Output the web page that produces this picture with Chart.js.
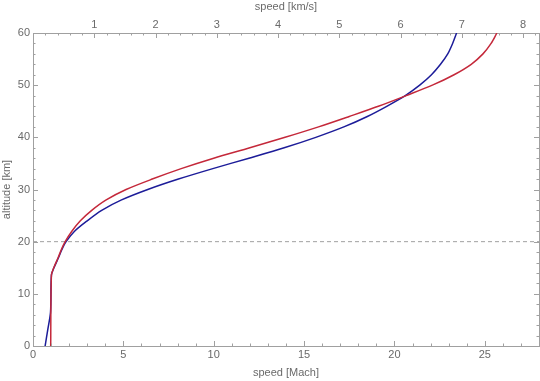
<!DOCTYPE html>
<html><head><meta charset="utf-8">
<script src="https://cdn.jsdelivr.net/npm/chart.js@4"></script>
<style>html,body{margin:0;padding:0;background:#fff;} #wrap{width:540px;height:381px;position:relative;}</style>
</head><body><div id="wrap"><canvas id="c"></canvas></div>
<script>
// ---- data ----
const machTicks = [0, 5, 10, 15, 20, 25];
const kmsTicks = [1, 2, 3, 4, 5, 6, 7, 8];
const altTicks = [0, 10, 20, 30, 40, 50, 60];
const machMax = 28;
const kmsPerMach = 0.295;
const altMax = 60;
const refAltitude = 20;

const altRed  = [0, 13.6, 15, 17, 18.5, 20, 22, 24, 26, 28, 30, 32, 34, 36, 38, 40, 42, 44, 46, 48, 50, 52, 54, 56, 58, 60];
const machRed = [0.98, 1.02, 1.15, 1.4, 1.57, 1.78, 2.15, 2.62, 3.25, 4.05, 5.15, 6.6, 8.2, 10.0, 12.0, 13.95, 15.8, 17.5, 19.15, 20.65, 22.1, 23.3, 24.25, 24.9, 25.35, 25.67];

const altBlue  = [0, 3.2, 6.5, 13.6, 15, 17, 18.5, 20, 22, 24, 26, 28, 30, 32, 34, 36, 38, 40, 42, 44, 46, 48, 50, 52, 54, 56, 58, 60];
const machBlue = [0.67, 0.82, 0.97, 1.02, 1.16, 1.42, 1.6, 1.83, 2.3, 3.0, 3.8, 4.9, 6.35, 8.05, 9.95, 11.95, 13.9, 15.65, 17.2, 18.5, 19.6, 20.6, 21.4, 22.05, 22.55, 22.95, 23.22, 23.44];

// ---- styling ----
const axisColor = '#a0a0a0';
const labelColor = '#6a6a6a';
const font = {family: 'Liberation Sans', size: 11};
const machMinorStep = 1, kmsMinorStep = 0.2, altMinorStep = 2;

const pts = (xs, ys) => xs.map((x, i) => ({x, y: ys[i]}));

const tickPlugin = {
  id: 'frameTicks',
  afterDraw(chart) {
    const {ctx, chartArea: a, scales} = chart;
    ctx.save();
    ctx.strokeStyle = axisColor;
    ctx.lineWidth = 1;
    const line = (x1, y1, x2, y2) => { ctx.beginPath(); ctx.moveTo(x1, y1); ctx.lineTo(x2, y2); ctx.stroke(); };
    const horiz = (scale, max, step, isMajor, top) => {
      for (let v = 0; v <= max + 1e-9; v += step) {
        const vv = Math.round(v * 1000) / 1000;
        const x = Math.round(scale.getPixelForValue(vv)) + 0.5;
        const len = isMajor(vv) ? 5 : 2.5;
        if (top) line(x, a.top, x, a.top + len); else line(x, a.bottom, x, a.bottom - len);
      }
    };
    const vert = (scale, max, step, isMajor, left) => {
      for (let v = 0; v <= max + 1e-9; v += step) {
        const vv = Math.round(v * 1000) / 1000;
        const y = Math.round(scale.getPixelForValue(vv)) + 0.5;
        const len = isMajor(vv) ? 5 : 2.5;
        if (left) line(a.left, y, a.left + len, y); else line(a.right, y, a.right - len, y);
      }
    };
    horiz(scales.x, machMax, machMinorStep, v => machTicks.includes(v), false);
    horiz(scales.x2, machMax * kmsPerMach, kmsMinorStep, v => kmsTicks.includes(v), true);
    vert(scales.y, altMax, altMinorStep, v => altTicks.includes(v), true);
    vert(scales.y2, altMax, altMinorStep, v => altTicks.includes(v), false);
    ctx.restore();
  }
};

const setTicks = arr => s => { s.ticks = arr.map(v => ({value: v})); };

new Chart(document.getElementById('c'), {
  type: 'scatter',
  data: {
    datasets: [
      {label: 'red', data: pts(machRed, altRed), showLine: true, borderColor: '#c4283a', borderWidth: 1.5, pointRadius: 0, tension: 0.3, order: 0},
      {label: 'blue', data: pts(machBlue, altBlue), showLine: true, borderColor: '#1c1c99', borderWidth: 1.5, pointRadius: 0, tension: 0.3, order: 1},
      {label: 'ref', data: [{x: 0, y: refAltitude}, {x: machMax, y: refAltitude}], showLine: true, borderColor: '#a0a0a0', borderWidth: 1, borderDash: [4, 3], pointRadius: 0, order: 2}
    ]
  },
  options: {
    responsive: true, maintainAspectRatio: false, animation: false, devicePixelRatio: 1,
    layout: {padding: 0},
    plugins: {legend: {display: false}, tooltip: {enabled: false}},
    scales: {
      x: {type: 'linear', position: 'bottom', min: 0, max: machMax,
        afterBuildTicks: setTicks(machTicks),
        ticks: {color: labelColor, font, padding: 2, maxRotation: 0, autoSkip: false},
        grid: {display: false, drawTicks: false},
        border: {display: true, color: axisColor},
        title: {display: true, text: 'speed [Mach]', color: labelColor, font, padding: {top: 0, bottom: 1}},
        afterFit: s => { s.height = 35; }},
      x2: {type: 'linear', position: 'top', min: 0, max: machMax * kmsPerMach,
        afterBuildTicks: setTicks(kmsTicks),
        ticks: {color: labelColor, font, padding: 1.5, maxRotation: 0, autoSkip: false},
        grid: {display: false, drawTicks: false},
        border: {display: true, color: axisColor},
        title: {display: true, text: 'speed [km/s]', color: labelColor, font, padding: {top: 0.5, bottom: 0}},
        afterFit: s => { s.height = 33; }},
      y: {type: 'linear', position: 'left', min: 0, max: altMax,
        afterBuildTicks: setTicks(altTicks),
        ticks: {color: labelColor, font, padding: 3, autoSkip: false},
        grid: {display: false, drawTicks: false},
        border: {display: true, color: axisColor},
        title: {display: true, text: 'altitude [km]', color: labelColor, font, padding: {top: 0, bottom: 0}},
        afterFit: s => { s.width = 33; }},
      y2: {type: 'linear', position: 'right', min: 0, max: altMax,
        ticks: {display: false},
        grid: {display: false, drawTicks: false},
        border: {display: true, color: axisColor},
        afterFit: s => { s.width = 1; }}
    }
  },
  plugins: [tickPlugin]
});
</script>
</body></html>
